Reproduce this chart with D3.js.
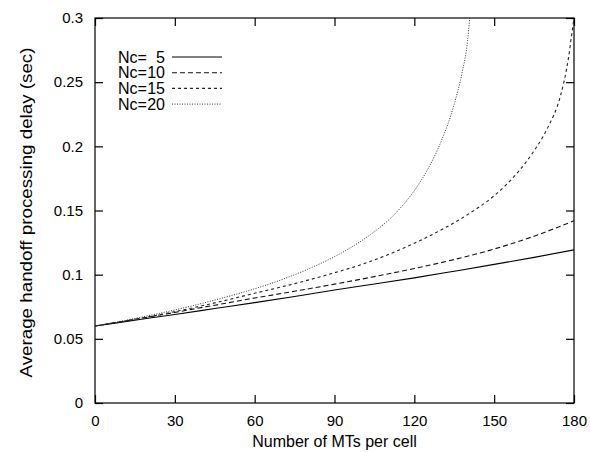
<!DOCTYPE html>
<html>
<head>
<meta charset="utf-8">
<script src="https://cdn.jsdelivr.net/npm/d3@7"></script>
<style>
  html, body { margin: 0; padding: 0; background: #fff; }
  svg { display: block; font-family: "Liberation Sans", Arial, Helvetica, sans-serif; }
</style>
</head>
<body>
<div id="chart"></div>
<script>
// ---- data ----
const xTickValues = [0, 30, 60, 90, 120, 150, 180];
const yTickValues = [0, 0.05, 0.1, 0.15, 0.2, 0.25, 0.3];
const yTickLabels = ["0", "0.05", "0.1", "0.15", "0.2", "0.25", "0.3"];

const seriesNames = ["5", "10", "15", "20"];

const mtsNc5   = [0, 15, 30, 45, 60, 75, 90, 105, 120, 135, 150, 165, 180];
const delayNc5 = [0.0600, 0.0645, 0.0690, 0.0736, 0.0782, 0.0830, 0.0880, 0.0927, 0.0975, 0.1027, 0.1080, 0.1135, 0.1193];

const mtsNc10   = [0, 15, 30, 45, 60, 75, 90, 105, 120, 135, 150, 165, 180];
const delayNc10 = [0.0600, 0.0652, 0.0706, 0.0762, 0.0818, 0.0871, 0.0926, 0.0985, 0.1048, 0.1118, 0.1200, 0.1300, 0.1420];

const mtsNc15   = [0, 15, 30, 45, 60, 75, 90, 100, 110, 120, 130, 140, 150, 155, 160, 165, 170, 175, 177, 178, 179, 180];
const delayNc15 = [0.0600, 0.0652, 0.0712, 0.0780, 0.0855, 0.0930, 0.1015, 0.1078, 0.1155, 0.1245, 0.1348, 0.1468, 0.1615, 0.1710, 0.1825, 0.1965, 0.2140, 0.2400, 0.2580, 0.2700, 0.2850, 0.3000];

const mtsNc20   = [0, 10, 20, 30, 40, 50, 60, 70, 80, 90, 100, 105, 110, 115, 120, 125, 130, 135, 138, 140, 140.8];
const delayNc20 = [0.0600, 0.0638, 0.0680, 0.0725, 0.0775, 0.0830, 0.0890, 0.0960, 0.1043, 0.1140, 0.1262, 0.1335, 0.1420, 0.1525, 0.1655, 0.1820, 0.2035, 0.2330, 0.2580, 0.2820, 0.3000];

// ---- layout ----
const W = 590, H = 452;
const margin = { left: 95, right: 16, top: 18, bottom: 49 };
const plotW = W - margin.left - margin.right;
const plotH = H - margin.top - margin.bottom;

const svg = d3.select("#chart").append("svg")
  .attr("width", W).attr("height", H);

const x = d3.scaleLinear().domain([0, 180]).range([margin.left, margin.left + plotW]);
const y = d3.scaleLinear().domain([0, 0.3]).range([margin.top + plotH, margin.top]);

const tickLen = 8;
const axisColor = "#000";

// border box
svg.append("rect")
  .attr("x", x(0)).attr("y", y(0.3))
  .attr("width", x(180) - x(0)).attr("height", y(0) - y(0.3))
  .attr("fill", "none").attr("stroke", axisColor).attr("stroke-width", 1.2);

// axes (ticks inward, mirrored)
const gB = svg.append("g").attr("transform", `translate(0,${y(0)})`)
  .call(d3.axisBottom(x).tickValues(xTickValues).tickSize(-tickLen).tickPadding(12).tickFormat(d3.format("d")));
const gT = svg.append("g").attr("transform", `translate(0,${y(0.3)})`)
  .call(d3.axisTop(x).tickValues(xTickValues).tickSize(-tickLen).tickFormat(""));
const gL = svg.append("g").attr("transform", `translate(${x(0)},0)`)
  .call(d3.axisLeft(y).tickValues(yTickValues).tickSize(-tickLen).tickPadding(12)
    .tickFormat((d, i) => yTickLabels[i]));
const gR = svg.append("g").attr("transform", `translate(${x(180)},0)`)
  .call(d3.axisRight(y).tickValues(yTickValues).tickSize(-tickLen).tickFormat(""));

[gB, gT, gL, gR].forEach(g => {
  g.select(".domain").remove();
  g.selectAll(".tick line").attr("stroke", axisColor).attr("stroke-width", 1.2);
  g.selectAll("text").attr("font-size", 15).attr("fill", "#000")
    .attr("font-family", '"Liberation Sans", Arial, sans-serif');
});

// axis titles
svg.append("text")
  .attr("x", (x(0) + x(180)) / 2).attr("y", 447)
  .attr("text-anchor", "middle").attr("font-size", 16).attr("fill", "#000")
  .text("Number of MTs per cell");

svg.append("text")
  .attr("transform", `translate(32,${(y(0) + y(0.3)) / 2 + 2}) rotate(-90)`)
  .attr("text-anchor", "middle").attr("font-size", 16).attr("fill", "#000")
  .attr("textLength", 330).attr("lengthAdjust", "spacingAndGlyphs")
  .text("Average handoff processing delay (sec)");

// series
const series = [
  { name: seriesNames[0], xs: mtsNc5,  ys: delayNc5,  dash: null,    color: "#000", width: 1.1 },
  { name: seriesNames[1], xs: mtsNc10, ys: delayNc10, dash: "5,3",   color: "#111", width: 1.1 },
  { name: seriesNames[2], xs: mtsNc15, ys: delayNc15, dash: "3,3",   color: "#222", width: 1.1 },
  { name: seriesNames[3], xs: mtsNc20, ys: delayNc20, dash: "1,1.5", color: "#333", width: 1.0 }
];

svg.append("clipPath").attr("id", "clip").append("rect")
  .attr("x", x(0)).attr("y", y(0.3)).attr("width", x(180) - x(0)).attr("height", y(0) - y(0.3));

const line = d3.line().x(d => x(d[0])).y(d => y(d[1])).curve(d3.curveMonotoneX);

const gLines = svg.append("g").attr("clip-path", "url(#clip)");
series.forEach(s => {
  const pts = s.xs.map((v, i) => [v, s.ys[i]]);
  gLines.append("path")
    .datum(pts)
    .attr("d", line)
    .attr("fill", "none")
    .attr("stroke", s.color)
    .attr("stroke-width", s.width)
    .attr("stroke-dasharray", s.dash);
});

// legend
const legX = 118, legY0 = 57, legDy = 15.7;
const legend = svg.append("g");
series.forEach((s, i) => {
  const yy = legY0 + i * legDy;
  legend.append("text").attr("x", legX).attr("y", yy).attr("dy", "0.35em")
    .attr("font-size", 16).attr("fill", "#000").text("Nc=");
  legend.append("text").attr("x", legX + 47).attr("y", yy).attr("dy", "0.35em")
    .attr("text-anchor", "end").attr("font-size", 16).attr("fill", "#000").text(s.name);
  legend.append("line")
    .attr("x1", 172).attr("x2", 222).attr("y1", yy).attr("y2", yy)
    .attr("stroke", s.color).attr("stroke-width", s.width)
    .attr("stroke-dasharray", s.dash);
});
</script>
</body>
</html>
